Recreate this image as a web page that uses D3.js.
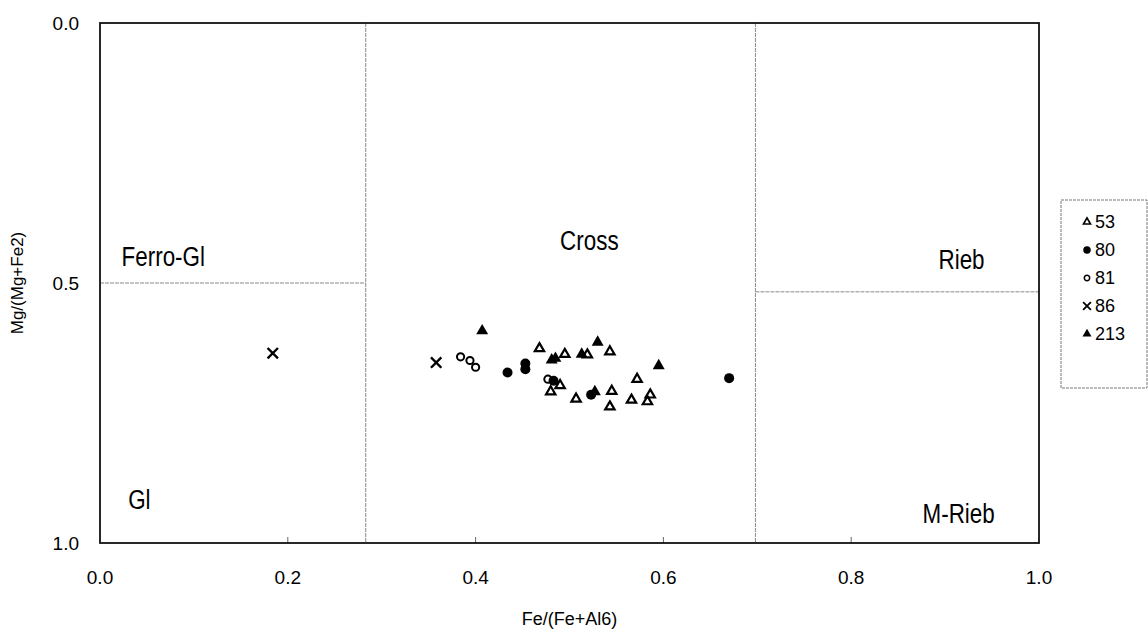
<!DOCTYPE html>
<html>
<head>
<meta charset="utf-8">
<script src="https://cdn.jsdelivr.net/npm/d3@7"></script>
<style>
  body { margin: 0; background: #fff; }
  svg { display: block; font-family: "Liberation Sans", Arial, sans-serif; }
</style>
</head>
<body>
<script>
// series values: [Fe/(Fe+Al6), Mg/(Mg+Fe2)]
var s53 = [[0.468, 0.626], [0.495, 0.637], [0.519, 0.638], [0.543, 0.632], [0.490, 0.697],
  [0.480, 0.709], [0.507, 0.723], [0.545, 0.708], [0.543, 0.738], [0.572, 0.685],
  [0.566, 0.725], [0.586, 0.715], [0.583, 0.728]];
var s80 = [[0.434, 0.672], [0.453, 0.655], [0.453, 0.666], [0.483, 0.688], [0.523, 0.715], [0.670, 0.683]];
var s81 = [[0.384, 0.642], [0.394, 0.649], [0.400, 0.662], [0.477, 0.685]];
var s86 = [[0.184, 0.635], [0.358, 0.653]];
var s213 = [[0.407, 0.592], [0.481, 0.648], [0.485, 0.645], [0.513, 0.637], [0.530, 0.614],
  [0.595, 0.659], [0.527, 0.709]];

var seriesNames = ["53", "80", "81", "86", "213"];
var xTicks = [0.0, 0.2, 0.4, 0.6, 0.8, 1.0];
var yTicks = [0.0, 0.5, 1.0];

// field boundaries
var vLines = [0.283, 0.698];
var hLineLeft = 0.5;
var hLineRight = 0.517;
var fieldLabels = [
  { text: "Ferro-Gl", x: 0.023, y: 0.468 },
  { text: "Gl", x: 0.030, y: 0.935 },
  { text: "Cross", x: 0.490, y: 0.437 },
  { text: "Rieb", x: 0.893, y: 0.473 },
  { text: "M-Rieb", x: 0.876, y: 0.962 }
];

var width = 1148, height = 641;
var margin = { left: 100, right: 109, top: 23, bottom: 98 };

var svg = d3.select("body").append("svg")
  .attr("width", width)
  .attr("height", height);

var x = d3.scaleLinear().domain([0, 1]).range([margin.left, width - margin.right]);
var y = d3.scaleLinear().domain([0, 1]).range([margin.top, height - margin.bottom]);

// boundary lines
svg.selectAll(".vline")
  .data(vLines)
  .enter().append("line")
  .attr("x1", d => x(d)).attr("x2", d => x(d))
  .attr("y1", y(0)).attr("y2", y(1))
  .attr("stroke", "#8a8a8a")
  .attr("stroke-width", 1)
  .attr("stroke-dasharray", "4,1");

svg.append("line")
  .attr("x1", x(0)).attr("x2", x(vLines[0]))
  .attr("y1", y(hLineLeft)).attr("y2", y(hLineLeft))
  .attr("stroke", "#8a8a8a").attr("stroke-dasharray", "4,1");

svg.append("line")
  .attr("x1", x(vLines[1])).attr("x2", x(1))
  .attr("y1", y(hLineRight)).attr("y2", y(hLineRight))
  .attr("stroke", "#8a8a8a").attr("stroke-dasharray", "4,1");

// x tick marks (inside)
svg.selectAll(".xtick")
  .data(xTicks.slice(1, -1))
  .enter().append("line")
  .attr("x1", d => x(d)).attr("x2", d => x(d))
  .attr("y1", y(1)).attr("y2", y(1) - 6)
  .attr("stroke", "#666");

// frame
svg.append("rect")
  .attr("x", x(0)).attr("y", y(0))
  .attr("width", x(1) - x(0)).attr("height", y(1) - y(0))
  .attr("fill", "none")
  .attr("stroke", "#111")
  .attr("stroke-width", 1.8);

// tick labels
svg.selectAll(".xlabel")
  .data(xTicks)
  .enter().append("text")
  .attr("x", d => x(d))
  .attr("y", y(1) + 41)
  .attr("text-anchor", "middle")
  .attr("font-size", 19)
  .text(d => d3.format(".1f")(d));

svg.selectAll(".ylabel")
  .data(yTicks)
  .enter().append("text")
  .attr("x", x(0) - 21)
  .attr("y", d => y(d) + 7)
  .attr("text-anchor", "end")
  .attr("font-size", 19)
  .text(d => d3.format(".1f")(d));

// axis titles
svg.append("text")
  .attr("x", (x(0) + x(1)) / 2)
  .attr("y", 625)
  .attr("text-anchor", "middle")
  .attr("font-size", 18)
  .text("Fe/(Fe+Al6)");

svg.append("text")
  .attr("transform", "translate(23," + y(0.5) + ") rotate(-90)")
  .attr("text-anchor", "middle")
  .attr("font-size", 17)
  .text("Mg/(Mg+Fe2)");

// field names, squeezed a bit like the narrow original font
svg.selectAll(".field")
  .data(fieldLabels)
  .enter().append("text")
  .attr("transform", d => "translate(" + x(d.x) + "," + y(d.y) + ") scale(0.8,1)")
  .attr("font-size", 28)
  .text(d => d.text);

// markers
var triUp = d3.symbol().type(d3.symbolTriangle);

function drawMarker(g, kind, scale) {
  var k = scale || 1;
  if (kind === "openTri") {
    g.append("path").attr("d", triUp.size(38 * k * k)())
      .attr("fill", "none").attr("stroke", "#000").attr("stroke-width", 2.2 * k);
  } else if (kind === "fillTri") {
    g.append("path").attr("d", triUp.size(62 * k * k)())
      .attr("fill", "#000");
  } else if (kind === "fillCirc") {
    g.append("circle").attr("r", 5 * k).attr("fill", "#000");
  } else if (kind === "openCirc") {
    g.append("circle").attr("r", 3.6 * k)
      .attr("fill", "none").attr("stroke", "#000").attr("stroke-width", 2 * k);
  } else if (kind === "cross") {
    var s = 5.2 * k;
    g.append("path").attr("d", "M" + -s + "," + -s + "L" + s + "," + s + "M" + -s + "," + s + "L" + s + "," + -s)
      .attr("stroke", "#000").attr("stroke-width", 2.4 * k);
  }
}

var allSeries = [s53, s80, s81, s86, s213];
var kinds = ["openTri", "fillCirc", "openCirc", "cross", "fillTri"];

allSeries.forEach(function(data, i) {
  svg.selectAll(".pt" + i)
    .data(data)
    .enter().append("g")
    .attr("transform", d => "translate(" + x(d[0]) + "," + y(d[1]) + ")")
    .each(function() { drawMarker(d3.select(this), kinds[i]); });
});

// legend
var legend = svg.append("g").attr("transform", "translate(1061,200)");
legend.append("rect")
  .attr("width", 86).attr("height", 188)
  .attr("fill", "#fff")
  .attr("stroke", "#777")
  .attr("stroke-dasharray", "3,1");

seriesNames.forEach(function(name, i) {
  var row = legend.append("g").attr("transform", "translate(26," + (22 + i * 28) + ")");
  drawMarker(row.append("g"), kinds[i], 0.75);
  row.append("text")
    .attr("x", 8).attr("y", 6)
    .attr("font-size", 18)
    .text(name);
});
</script>
</body>
</html>
